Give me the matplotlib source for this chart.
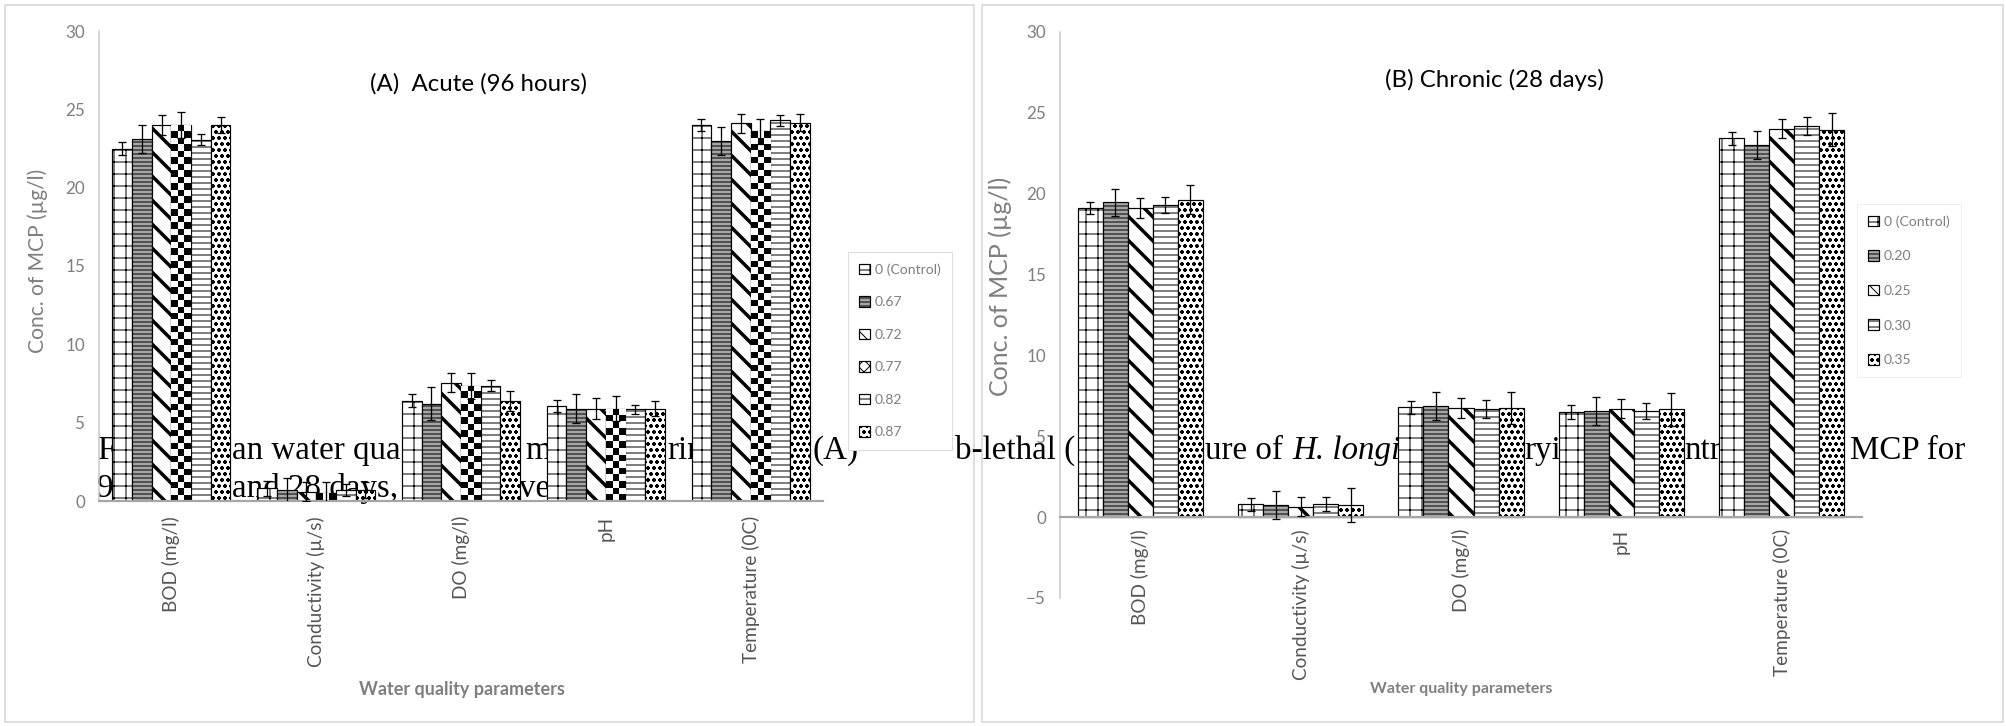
"""
Water quality parameters for the acute (A) and chronic (B) MCP exposures,
redrawn as two patterned grouped bar charts side by side.
"""

import numpy as np
import matplotlib
matplotlib.use('Agg')
import matplotlib.pyplot as plt
import matplotlib.patches as patches

# ---------------------------------------------------------------- data
parameters = ['BOD (mg/l)', 'Conductivity (µ/s)', 'DO (mg/l)', 'pH', 'Temperature (0C)']

# (A) acute, 96 hours
acute_labels = ['0 (Control)', '0.67', '0.72', '0.77', '0.82', '0.87']
acute_control = [22.5, 0.8, 6.4, 6.05, 24.0]
acute_067 = [23.1, 0.7, 6.2, 5.9, 23.0]
acute_072 = [24.0, 0.6, 7.55, 5.9, 24.1]
acute_077 = [24.0, 0.5, 7.35, 5.9, 23.6]
acute_082 = [23.05, 0.7, 7.35, 5.85, 24.3]
acute_087 = [24.0, 0.7, 6.4, 5.9, 24.15]

acute_control_err = [0.4, 0.5, 0.4, 0.4, 0.4]
acute_067_err = [0.9, 0.8, 1.05, 0.9, 0.9]
acute_072_err = [0.65, 0.6, 0.6, 0.65, 0.6]
acute_077_err = [0.8, 0.7, 0.85, 0.8, 0.8]
acute_082_err = [0.35, 0.4, 0.35, 0.3, 0.35]
acute_087_err = [0.5, 0.5, 0.65, 0.5, 0.55]

# (B) chronic, 28 days
chronic_labels = ['0 (Control)', '0.20', '0.25', '0.30', '0.35']
chronic_control = [19.1, 0.8, 6.8, 6.5, 23.4]
chronic_020 = [19.45, 0.75, 6.85, 6.55, 23.0]
chronic_025 = [19.1, 0.65, 6.75, 6.7, 24.0]
chronic_030 = [19.3, 0.8, 6.7, 6.55, 24.15]
chronic_035 = [19.6, 0.75, 6.75, 6.65, 23.95]

chronic_control_err = [0.4, 0.4, 0.4, 0.45, 0.4]
chronic_020_err = [0.85, 0.85, 0.85, 0.85, 0.85]
chronic_025_err = [0.6, 0.6, 0.6, 0.6, 0.6]
chronic_030_err = [0.5, 0.45, 0.55, 0.5, 0.55]
chronic_035_err = [0.9, 1.05, 1.0, 1.0, 1.05]

acute_means = [acute_control, acute_067, acute_072, acute_077, acute_082, acute_087]
acute_errors = [acute_control_err, acute_067_err, acute_072_err,
                acute_077_err, acute_082_err, acute_087_err]
chronic_means = [chronic_control, chronic_020, chronic_025, chronic_030, chronic_035]
chronic_errors = [chronic_control_err, chronic_020_err, chronic_025_err,
                  chronic_030_err, chronic_035_err]

# ---------------------------------------------------------------- layout
W, H = 2006, 726
GREY_TEXT = '#7f7f7f'
DARK_GREY = '#555555'

plt.rcParams['font.family'] = ['Lato', 'DejaVu Sans']
plt.rcParams['hatch.linewidth'] = 1.0


def fx(px):
    """Figure fraction from a pixel column."""
    return px / W


def fy(py):
    """Figure fraction from a pixel row (counted from the top)."""
    return 1 - py / H


def draw_bars(ax, means, errors, labels, hatches, faces, width):
    """Grouped bars with black outlines, hatch patterns and error bars."""
    n = len(means)
    x = np.arange(len(parameters))
    containers = []
    for i, (vals, errs) in enumerate(zip(means, errors)):
        offset = (i - (n - 1) / 2) * width
        bars = ax.bar(x + offset, vals, width, color=faces[i], edgecolor='black',
                      linewidth=1.2, hatch=hatches[i], label=labels[i], zorder=2)
        if hatches[i] == '\\':
            for bar in bars:
                if hasattr(bar, 'set_hatch_linewidth'):
                    bar.set_hatch_linewidth(3.5)
        ax.errorbar(x + offset, vals, yerr=errs, fmt='none', ecolor='black',
                    elinewidth=1.3, capsize=4, capthick=1.3, zorder=4)
        containers.append(bars)
    return containers


def add_checker(ax, bars, cell_px=6.5):
    """Fill bars with a small black/white checkerboard (Excel style pattern)."""
    for bar in bars:
        x0, w, h = bar.get_x(), bar.get_width(), bar.get_height()
        (px0, py0), (px1, py1) = ax.transData.transform([(x0, 0), (x0 + w, h)])
        cols = max(1, round((px1 - px0) / cell_px))
        rows = max(1, round((py1 - py0) / cell_px))
        pattern = np.indices((rows, cols)).sum(axis=0) % 2
        img = ax.imshow(pattern, cmap='gray', vmin=0, vmax=1,
                        extent=(x0, x0 + w, 0, h), origin='lower',
                        aspect='auto', interpolation='nearest', zorder=2.5)
        img.set_clip_path(bar)


def style_axes(ax, ylim, yticks, tick_pad, label_coords, label_size):
    """Excel-like axes: grey lines, no tick marks, rotated category labels."""
    ax.set_facecolor('none')
    for side in ['top', 'right']:
        ax.spines[side].set_visible(False)
    ax.spines['left'].set_color('#c8c8c8')
    ax.spines['left'].set_linewidth(1.5)
    ax.spines['bottom'].set_color('#a6a6a6')
    ax.spines['bottom'].set_linewidth(2.2)
    # moving the spine resets the ticks, so do it before labelling them
    ax.spines['bottom'].set_position(('data', 0))
    ax.set_xlim(-0.5, 4.5)
    ax.set_ylim(*ylim)
    ax.set_yticks(yticks)
    ax.set_xticks(range(len(parameters)), parameters)
    ax.tick_params(axis='x', length=0, pad=tick_pad, labelsize=19,
                   labelcolor=DARK_GREY, labelrotation=90)
    ax.tick_params(axis='y', length=0, pad=14, labelsize=17, labelcolor=GREY_TEXT)
    ax.set_ylabel('Conc. of MCP (µg/l)', fontsize=label_size, color=GREY_TEXT)
    ax.yaxis.set_label_coords(*label_coords)


fig = plt.figure(figsize=(W / 72, H / 72), dpi=72)
fig.patch.set_facecolor('white')

# Light frames round both panels
for left, right in [(5, 974), (982, 2003)]:
    fig.add_artist(patches.Rectangle(
        (fx(left), fy(722)), fx(right) - fx(left), fy(5) - fy(722),
        transform=fig.transFigure, fill=False, edgecolor='#d4d4d4',
        linewidth=1.5, zorder=-2))

# Caption of the page showing through the transparent plot areas
caption_fragments = [
    ('F', 97, 459, 'normal'), ('an water qua', 232, 459, 'normal'),
    ('m', 525, 459, 'normal'), ('rin', 667, 459, 'normal'),
    ('(A)', 812, 459, 'normal'), ('b-lethal (', 955, 459, 'normal'),
    ('ure of ', 1205, 459, 'normal'), ('H. longi', 1292, 459, 'italic'),
    ('ryi', 1524, 459, 'normal'), ('ntr', 1684, 459, 'normal'),
    ('MCP for', 1850, 459, 'normal'),
    ('9', 97, 497, 'normal'), ('and 28 days,', 232, 497, 'normal'),
    ('vel', 519, 497, 'normal'),
]
for text, px, py, style in caption_fragments:
    fig.text(fx(px), fy(py), text, fontsize=33, family='Liberation Serif',
             style=style, ha='left', va='baseline', color='black', zorder=-1)

# ---------------------------------------------------------------- (A) acute
ax_a = fig.add_axes([fx(99), fy(501), fx(823) - fx(99), fy(31) - fy(501)])
acute_hatches = ['+', '---', '\\', 'xx', '--', 'oo']
acute_faces = ['white', '#a6a6a6', 'white', 'white', 'white', 'white']
acute_bars = draw_bars(ax_a, acute_means, acute_errors, acute_labels,
                       acute_hatches, acute_faces, 0.136)
style_axes(ax_a, (0, 30), range(0, 31, 5), 15, (-0.07, 0.51), 21)
add_checker(ax_a, acute_bars[3])
ax_a.set_xlim(-0.5, 4.5)
ax_a.set_ylim(0, 30)
ax_a.legend(loc='upper left', bbox_to_anchor=(fx(848), fy(252)),
            bbox_transform=fig.transFigure, fancybox=False, framealpha=1,
            edgecolor='#dcdcdc', fontsize=14, labelcolor=GREY_TEXT,
            handlelength=0.8, handleheight=0.8, handletextpad=0.3,
            labelspacing=1.45, borderpad=0.8, borderaxespad=0)

fig.text(fx(478), fy(84), '(A)  Acute (96 hours)', ha='center', va='center',
         fontsize=24, color='black')
fig.text(fx(462), fy(690), 'Water quality parameters', ha='center', va='center',
         fontsize=18, fontweight='bold', color=GREY_TEXT)

# ---------------------------------------------------------------- (B) chronic
ax_b = fig.add_axes([fx(1060), fy(598), fx(1862) - fx(1060), fy(31.6) - fy(598)])
chronic_hatches = ['+', '---', '\\', '--', 'oo']
chronic_faces = ['white', '#a6a6a6', 'white', 'white', 'white']
draw_bars(ax_b, chronic_means, chronic_errors, chronic_labels,
          chronic_hatches, chronic_faces, 0.156)
style_axes(ax_b, (-5, 30), range(-5, 31, 5), 12, (-0.06, 0.55), 25)
ax_b.legend(loc='upper left', bbox_to_anchor=(fx(1857), fy(204)),
            bbox_transform=fig.transFigure, fancybox=False, framealpha=1,
            edgecolor='#eeeeee', fontsize=14, labelcolor=GREY_TEXT,
            handlelength=0.8, handleheight=0.8, handletextpad=0.3,
            labelspacing=1.6, borderpad=0.8, borderaxespad=0)

fig.text(fx(1494), fy(80), '(B) Chronic (28 days)', ha='center', va='center',
         fontsize=24, color='black')
fig.text(fx(1461), fy(689), 'Water quality parameters', ha='center', va='center',
         fontsize=16, fontweight='bold', color=GREY_TEXT)

fig.savefig('out.png', dpi=72, facecolor='white')
